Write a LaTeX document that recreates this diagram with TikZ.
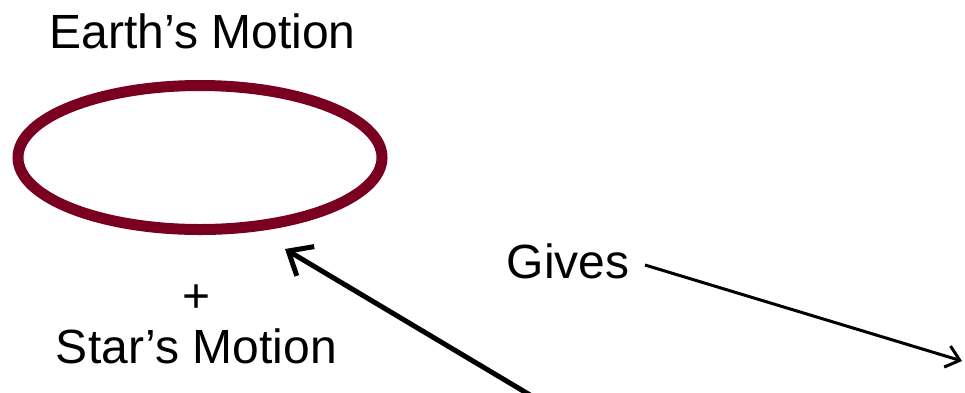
\documentclass[tikz,border=0pt]{standalone}
\usepackage{fontspec}
\setmainfont{Liberation Sans}
\usetikzlibrary{shapes.geometric,arrows.meta}
\definecolor{maroon}{HTML}{7A0022}
\begin{document}
\begin{tikzpicture}[x=1pt,y=-1pt,
  lbl/.style={font=\fontsize{48}{56}\selectfont, inner sep=0pt, anchor=base},
  orbit/.style={draw=maroon, line width=11pt, ellipse, minimum width=364pt, minimum height=144pt, inner sep=0pt},
  thickarrow/.style={line width=5pt, -{Straight Barb[length=20pt,width=34pt,line width=5pt]}},
  thinarrow/.style={line width=3pt, -{Straight Barb[length=13pt,width=22pt,line width=3pt]}}]
\useasboundingbox (0,0) rectangle (965,392);
\node[lbl] (earth) at (202.5,48) {Earth’s Motion};
\node[orbit] (ell) at (200,157.5) {};
\node[lbl] (plus) at (197,312) {+};
\node[lbl] (star) at (196.5,363) {Star’s Motion};
\node[lbl] (gives) at (568,278) {Gives};
\coordinate (a1s) at (530,395);
\coordinate (a1e) at (285,249);
\coordinate (a2s) at (645,265);
\coordinate (a2e) at (962,361);
\draw[thickarrow] (a1s) -- (a1e);
\draw[thinarrow] (a2s) -- (a2e);
\end{tikzpicture}
\end{document}
